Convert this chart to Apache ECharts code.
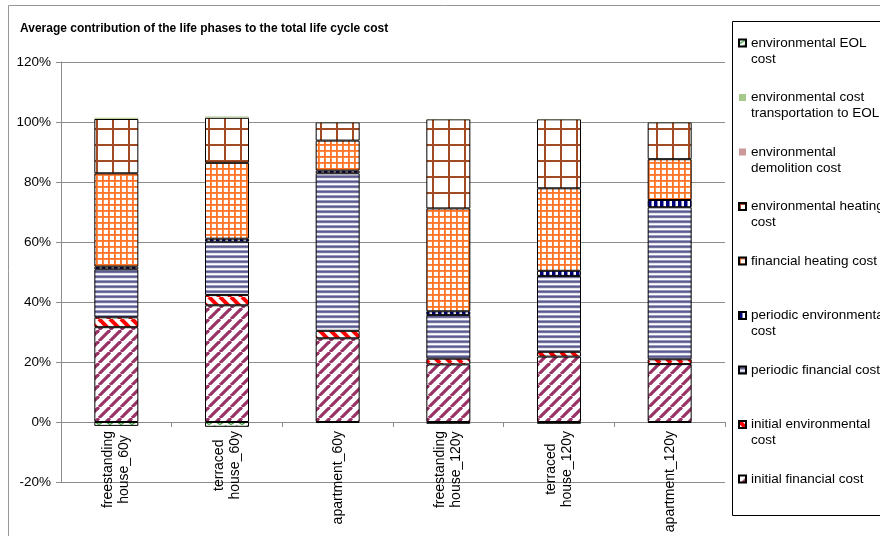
<!DOCTYPE html>
<html>
<head>
<meta charset="utf-8">
<script src="https://cdn.jsdelivr.net/npm/echarts@6/dist/echarts.min.js"></script>
<style>
  html, body { margin: 0; padding: 0; background: #fff; }
  #chart { width: 880px; height: 536px; }
</style>
</head>
<body>
<div id="chart"></div>
<script>
// Building types and lifetimes (tick labels, line-broken as printed)
const categories = [
  'freestanding\nhouse_60y',
  'terraced\nhouse_60y',
  'apartment_60y',
  'freestanding\nhouse_120y',
  'terraced\nhouse_120y',
  'apartment_120y'
];

// Share of total life cycle cost, in percent
const initialFinancial      = [31.6, 38.9, 27.9, 19.2, 21.8, 19.3];
const initialEnvironmental  = [3.3, 3.4, 2.5, 1.9, 1.6, 1.6];
const periodicFinancial     = [16.0, 17.8, 52.5, 14.6, 25.3, 50.7];
const periodicEnvironmental = [0.9, 1.0, 0.9, 1.2, 1.7, 2.4];
const financialHeating      = [31.1, 25.3, 10.0, 34.3, 27.5, 13.6];
const environmentalHeating  = [18.1, 15.0, 6.1, 29.7, 23.0, 12.3];
const environmentalDemolition = [0.1, 0.1, 0.05, 0.05, 0.05, 0.05];
const environmentalTransport  = [0.3, 0.3, 0.05, 0.05, 0.05, 0.05];
const environmentalEOL        = [-1.3, -1.6, -0.3, -0.6, -0.6, -0.3];

// Value axis ticks
const yMin = -20, yMax = 120, yStep = 20;

// Legend entries, top to bottom, with their printed line breaks
const legendNames = [
  'environmental EOL cost',
  'environmental cost transportation to EOL',
  'environmental demolition cost',
  'environmental heating cost',
  'financial heating cost',
  'periodic environmental cost',
  'periodic financial cost',
  'initial environmental cost',
  'initial financial cost'
];
const legendLabels = [
  'environmental EOL\ncost',
  'environmental cost\ntransportation to EOL',
  'environmental\ndemolition cost',
  'environmental heating\ncost',
  'financial heating cost',
  'periodic environmental\ncost',
  'periodic financial cost',
  'initial environmental\ncost',
  'initial financial cost'
];

const FONT = '"Liberation Sans", Arial, sans-serif';
const LABEL_SIZE = 13.5;
const CATEGORY_SIZE = 14;

// Fill patterns drawn into small repeating tiles
function tile(w, h, draw) {
  const c = document.createElement('canvas');
  c.width = w; c.height = h;
  const g = c.getContext('2d');
  g.fillStyle = '#ffffff';
  g.fillRect(0, 0, w, h);
  draw(g, w, h);
  return { image: c, repeat: 'repeat' };
}

const patUpDiagonal = tile(11, 11, (g, w) => {
  g.strokeStyle = '#993366'; g.lineWidth = 3.2;
  for (let k = -1; k <= 1; k++) {
    g.beginPath(); g.moveTo(k * w, w); g.lineTo(k * w + w, 0); g.stroke();
  }
});
const patDownDiagonal = tile(11, 11, (g, w) => {
  g.strokeStyle = '#ff0000'; g.lineWidth = 4;
  for (let k = -1; k <= 1; k++) {
    g.beginPath(); g.moveTo(k * w, 0); g.lineTo(k * w + w, w); g.stroke();
  }
});
const patHorizontal = tile(6, 5, (g, w) => {
  g.fillStyle = '#9a9ac0'; g.fillRect(0, 0, w, 1);
  g.fillStyle = '#5a5a90'; g.fillRect(0, 1, w, 1);
  g.fillStyle = '#74749f'; g.fillRect(0, 2, w, 1);
  g.fillStyle = '#e4e4ee'; g.fillRect(0, 3, w, 1);
});
const patVertical = tile(6, 4, (g, w, h) => {
  g.fillStyle = '#000080'; g.fillRect(0, 0, 3.5, h);
});
const patSmallGrid = tile(6, 6, (g, w, h) => {
  g.fillStyle = '#ff7324';
  g.fillRect(0, 0, w, 1.8);
  g.fillRect(0, 0, 1.8, h);
});
const patLargeGrid = tile(16, 16, (g, w, h) => {
  g.fillStyle = '#a24a22';
  g.fillRect(0, 0, w, 2);
  g.fillRect(0, 0, 2, h);
});
const patZigzag = tile(11, 5, (g) => {
  g.strokeStyle = '#2fa02f'; g.lineWidth = 1.2;
  g.beginPath(); g.moveTo(0, 4.5); g.lineTo(5.5, 1); g.lineTo(11, 4.5); g.stroke();
});

const outline = { borderColor: '#000', borderWidth: 1 };

function barSeries(name, data, color, border) {
  return {
    name: name,
    type: 'bar',
    stack: 'total',
    barWidth: 44,
    data: data,
    itemStyle: Object.assign({ color: color }, border ? outline : { borderWidth: 0 }),
    emphasis: { disabled: true }
  };
}

const series = [
  barSeries('initial financial cost', initialFinancial, patUpDiagonal, true),
  barSeries('initial environmental cost', initialEnvironmental, patDownDiagonal, true),
  barSeries('periodic financial cost', periodicFinancial, patHorizontal, true),
  barSeries('periodic environmental cost', periodicEnvironmental, patVertical, true),
  barSeries('financial heating cost', financialHeating, patSmallGrid, true),
  barSeries('environmental heating cost', environmentalHeating, patLargeGrid, true),
  barSeries('environmental demolition cost', environmentalDemolition, '#cc9999', false),
  barSeries('environmental cost transportation to EOL', environmentalTransport, '#a6c98c', false),
  barSeries('environmental EOL cost', environmentalEOL, patZigzag, true)
];

// Rotated category labels: lines centred on each other, each block starting
// just below the zero line. A left padding pulls shorter labels up.
const measure = document.createElement('canvas').getContext('2d');
measure.font = CATEGORY_SIZE + 'px ' + FONT;
const labelGap = 9;
const lineWidths = categories.map(c =>
  Math.max.apply(null, c.split('\n').map(s => measure.measureText(s).width)));
const longest = Math.max.apply(null, lineWidths);
const labelCentre = labelGap + longest / 2;
const categoryData = categories.map((c, i) => ({
  value: c,
  textStyle: {
    align: 'center',
    verticalAlign: 'middle',
    padding: [0, 0, 0, 2 * (labelCentre - labelGap - lineWidths[i] / 2)]
  }
}));

const chart = echarts.init(document.getElementById('chart'), null, { renderer: 'canvas' });

const option = {
  animation: false,
  backgroundColor: '#ffffff',
  textStyle: { fontFamily: FONT },
  title: {
    text: 'Average contribution of the life phases to the total life cycle cost',
    left: 20,
    top: 23,
    padding: 0,
    textStyle: { fontFamily: FONT, fontSize: 12, fontWeight: 'bold', color: '#000' }
  },
  graphic: [
    {
      type: 'rect', z: -10, silent: true,
      shape: { x: 8.5, y: 5.5, width: 1000, height: 1000 },
      style: { fill: '#fff', stroke: '#969696', lineWidth: 1 }
    },
    {
      type: 'rect', z: -9, silent: true,
      shape: { x: 732.5, y: 21.5, width: 300, height: 494 },
      style: { fill: '#fff', stroke: '#000', lineWidth: 1 }
    }
  ],
  legend: {
    orient: 'vertical',
    left: 738,
    top: 19,
    padding: 0,
    icon: 'rect',
    itemWidth: 7,
    itemHeight: 7,
    itemGap: 6.5,
    selectedMode: false,
    data: legendNames,
    formatter: function (name) {
      const label = legendLabels[legendNames.indexOf(name)];
      // keep the icon level with the first printed line
      return label.indexOf('\n') >= 0 ? ' \n' + label : ' \n' + label + '\n ';
    },
    textStyle: { fontFamily: FONT, fontSize: LABEL_SIZE, lineHeight: 16, color: '#000' }
  },
  grid: {
    left: 61,
    right: 155,
    top: 62,
    bottom: 54,
    containLabel: false,
    outerBoundsMode: 'none'
  },
  xAxis: {
    type: 'category',
    data: categoryData,
    axisLine: { onZero: true, lineStyle: { color: '#8c8c8c', width: 1 } },
    axisTick: { show: true, alignWithLabel: false, length: 5, lineStyle: { color: '#8c8c8c' } },
    axisLabel: {
      rotate: 90,
      align: 'center',
      verticalAlign: 'middle',
      margin: labelCentre,
      interval: 0,
      fontFamily: FONT,
      fontSize: CATEGORY_SIZE,
      lineHeight: 16.5,
      color: '#000'
    },
    splitLine: { show: false }
  },
  yAxis: {
    type: 'value',
    min: yMin,
    max: yMax,
    interval: yStep,
    axisLine: { show: true, lineStyle: { color: '#8c8c8c', width: 1 } },
    axisTick: { show: true, length: 5, lineStyle: { color: '#8c8c8c' } },
    axisLabel: {
      formatter: '{value}%',
      margin: 10,
      fontFamily: FONT,
      fontSize: LABEL_SIZE,
      color: '#000'
    },
    splitLine: { show: true, lineStyle: { color: '#8c8c8c', width: 1 } }
  },
  series: series
};

chart.setOption(option);

// Category labels sit at the bottom edge of the grid, not on the zero line:
// measure the offset between the two and move the labels up by it.
const zeroY = chart.convertToPixel({ yAxisIndex: 0 }, 0);
const bottomY = chart.convertToPixel({ yAxisIndex: 0 }, yMin);
chart.setOption({ xAxis: { axisLabel: { margin: labelCentre - (bottomY - zeroY) } } });
</script>
</body>
</html>
